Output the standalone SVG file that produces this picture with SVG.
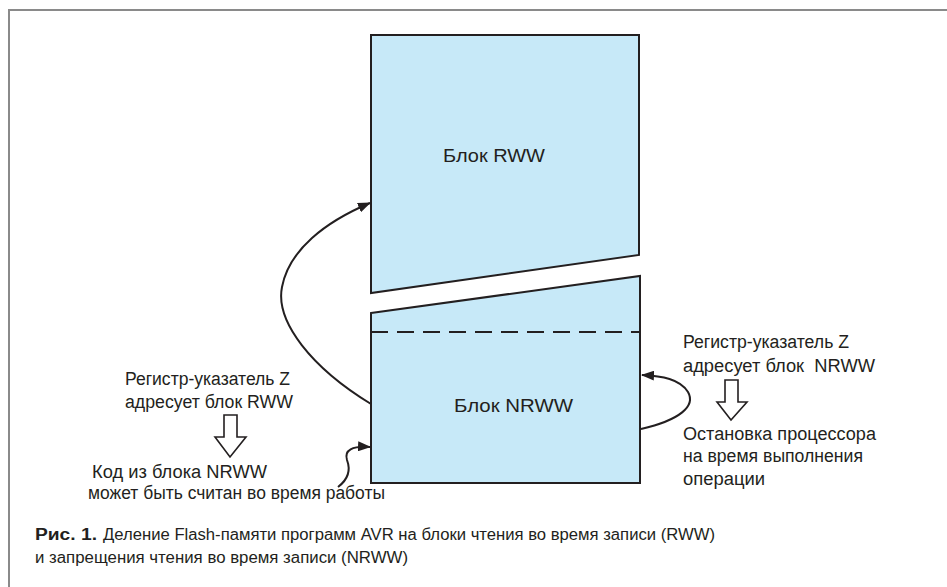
<svg xmlns="http://www.w3.org/2000/svg" width="947" height="587" viewBox="0 0 947 587">
  <style>
    .frame { fill: none; stroke: #8a8a8a; stroke-width: 2; }
    .block { fill: #c7e9f8; stroke: #231f20; stroke-width: 2; stroke-linejoin: miter; }
    .dash { fill: none; stroke: #231f20; stroke-width: 2; stroke-dasharray: 17 9; }
    .conn { fill: none; stroke: #231f20; stroke-width: 2; }
    .hollow { fill: #ffffff; stroke: #231f20; stroke-width: 1.6; stroke-linejoin: miter; }
    text { font-family: "Liberation Sans", "DejaVu Sans", sans-serif; fill: #231f20; }
    .lbl { font-size: 18px; }
    .blk { font-size: 19px; }
    .cap { font-size: 16px; }
    .capb { font-size: 16px; font-weight: bold; }
  </style>
  <defs>
    <marker id="ah" viewBox="0 0 13 10" refX="12" refY="5" markerWidth="13" markerHeight="10" markerUnits="userSpaceOnUse" orient="auto">
      <path d="M0,0 L13,5 L0,10 Z" fill="#231f20"/>
    </marker>
  </defs>

  <!-- page frame: top and left rules -->
  <path class="frame" d="M9,587 L9,10 L947,10"/>

  <!-- RWW block -->
  <g id="block-rww">
    <polygon class="block" points="371,35 639,35 639,255 371,293"/>
    <text class="blk" x="443" y="162" textLength="102" lengthAdjust="spacingAndGlyphs">Блок RWW</text>
  </g>

  <!-- NRWW block with boot-section boundary -->
  <g id="block-nrww">
    <polygon class="block" points="371,313 640,276 640,483 371,483"/>
    <line class="dash" x1="371" y1="332" x2="640" y2="332"/>
    <text class="blk" x="454" y="412" textLength="119" lengthAdjust="spacingAndGlyphs">Блок NRWW</text>
  </g>

  <!-- connectors -->
  <g id="connectors">
    <path class="conn" d="M371,404 C312,368 275,322 282,287 C289,250 325,222 370,203" marker-end="url(#ah)"/>
    <path class="conn" d="M641,429 C680,420 696,406 688,392 C680,379 662,376 642,375" marker-end="url(#ah)"/>
    <path class="conn" d="M338,487 C350,478 350,468 347,460 C344,450 352,446 370,447" marker-end="url(#ah)"/>
  </g>

  <!-- left note: Z points to RWW -->
  <g id="note-left">
    <text class="lbl" x="125" y="385" textLength="165" lengthAdjust="spacingAndGlyphs">Регистр-указатель Z</text>
    <text class="lbl" x="125" y="408" textLength="168" lengthAdjust="spacingAndGlyphs">адресует блок RWW</text>
    <polygon class="hollow" points="224,415 224,437 215,437 230,457 246,437 237,437 237,415"/>
    <text class="lbl" x="92" y="478" textLength="175" lengthAdjust="spacingAndGlyphs">Код из блока NRWW</text>
    <text class="lbl" x="88" y="499" textLength="297" lengthAdjust="spacingAndGlyphs">может быть считан во время работы</text>
  </g>

  <!-- right note: Z points to NRWW -->
  <g id="note-right">
    <text class="lbl" x="683" y="348" textLength="166" lengthAdjust="spacingAndGlyphs">Регистр-указатель Z</text>
    <text class="lbl" x="683" y="372" textLength="192" lengthAdjust="spacingAndGlyphs" xml:space="preserve">адресует блок  NRWW</text>
    <polygon class="hollow" points="725,380 725,402 717,402 731,420 747,402 738,402 738,380"/>
    <text class="lbl" x="683" y="440" textLength="193" lengthAdjust="spacingAndGlyphs">Остановка процессора</text>
    <text class="lbl" x="683" y="462" textLength="180" lengthAdjust="spacingAndGlyphs">на время выполнения</text>
    <text class="lbl" x="683" y="485" textLength="82" lengthAdjust="spacingAndGlyphs">операции</text>
  </g>

  <!-- caption -->
  <g id="caption">
    <text class="capb" x="35" y="540" textLength="62" lengthAdjust="spacingAndGlyphs">Рис. 1.</text>
    <text class="cap" x="103" y="540" textLength="612" lengthAdjust="spacingAndGlyphs">Деление Flash-памяти программ AVR на блоки чтения во время записи (RWW)</text>
    <text class="cap" x="35" y="563" textLength="373" lengthAdjust="spacingAndGlyphs">и запрещения чтения во время записи (NRWW)</text>
  </g>
</svg>
